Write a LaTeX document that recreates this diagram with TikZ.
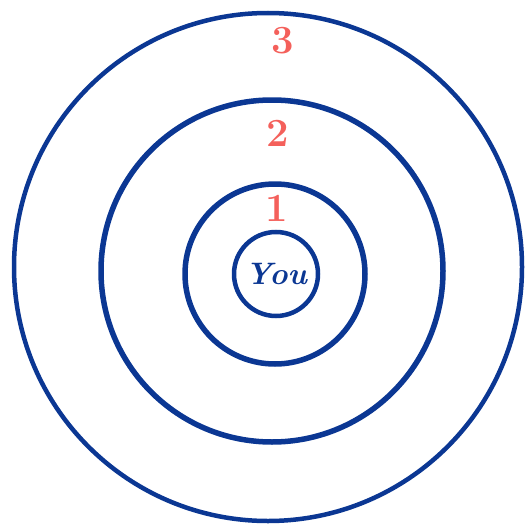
\documentclass[tikz,border=0pt]{standalone}
\definecolor{inkblue}{HTML}{0B3793}
\definecolor{inkred}{HTML}{F4605B}
\begin{document}
\begin{tikzpicture}[x=1pt, y=-1pt,
    ring/.style={draw=inkblue, circle, inner sep=0pt},
    level/.style={text=inkred, inner sep=0pt, font=\fontsize{40}{40}\selectfont\bfseries}]
\useasboundingbox (0,0) rectangle (530,527);
% rings from outside in
\node[ring, line width=4.5pt, minimum size=508pt] (R3) at (268,267) {};
\node[ring, line width=5.5pt, minimum size=342pt] (R2) at (272,271) {};
\node[ring, line width=5.5pt, minimum size=180pt] (R1) at (275,274) {};
\node[ring, line width=4.5pt, minimum size=84pt, text=inkblue,
      font=\fontsize{31}{31}\selectfont\itshape\bfseries] (you) at (276,274) {You};
% numbers
\node[level] (L3) at (283,41) {3};
\node[level] (L2) at (278,133) {2};
\node[level] (L1) at (277,208) {1};
\end{tikzpicture}
\end{document}
